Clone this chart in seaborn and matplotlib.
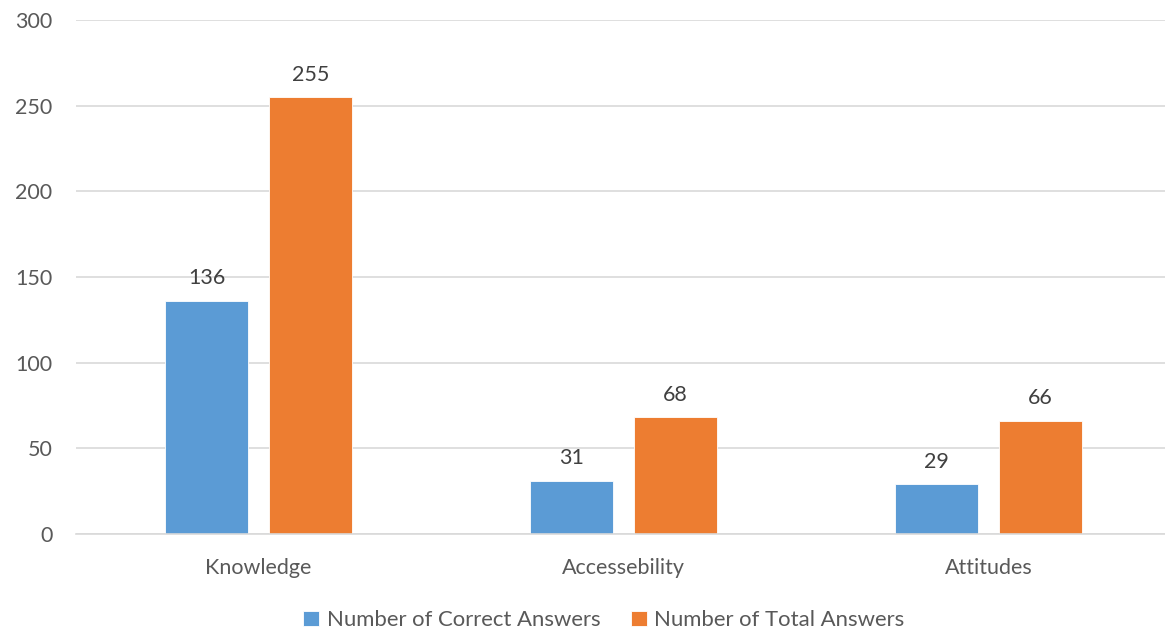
import matplotlib
matplotlib.use("Agg")
import matplotlib.pyplot as plt
import seaborn as sns
import pandas as pd

categories = ["Knowledge", "Accessebility", "Attitudes"]
series_names = ["Number of Correct Answers", "Number of Total Answers"]
correct = [136, 31, 29]
total = [255, 68, 66]
colors = ["#5B9BD5", "#ED7D31"]

df = pd.DataFrame({
    "category": categories * 2,
    "series": [series_names[0]] * 3 + [series_names[1]] * 3,
    "value": correct + total,
})

sns.set_theme(style="white")
plt.rcParams["font.family"] = ["Lato", "DejaVu Sans"]

W, H = 1165, 634
FS = 15.5
fig = plt.figure(figsize=(W / 100, H / 100), dpi=100)
ax = fig.add_axes([76 / W, 1 - 534 / H, 1095 / W, (534 - 20) / H])

sns.barplot(data=df, x="category", y="value", hue="series", order=categories,
            hue_order=series_names, palette=colors, saturation=1, width=0.57, gap=0.21,
            edgecolor="white", linewidth=0.6, ax=ax, legend=True)

ax.set_xlim(-0.5, 2.5)
ax.set_ylim(0, 300)
ax.set_yticks(range(0, 301, 50))
ax.yaxis.grid(True, color="#D9D9D9", linewidth=1.2)
ax.set_axisbelow(True)
for s in ["top", "right", "left"]:
    ax.spines[s].set_visible(False)
ax.spines["bottom"].set_color("#D9D9D9")
ax.spines["bottom"].set_linewidth(1.2)
ax.set_xlabel("")
ax.set_ylabel("")
ax.tick_params(axis="y", length=0, labelsize=FS, labelcolor="#595959", pad=17)
ax.tick_params(axis="x", which="major", length=0, labelsize=FS, labelcolor="#595959", pad=17)
ax.set_xticks([-0.5, 0.5, 1.5, 2.5], minor=True)
ax.tick_params(axis="x", which="minor", length=6, color="#D9D9D9", width=1.2)

for cont in ax.containers:
    ax.bar_label(cont, padding=9, fontsize=FS, color="#404040")

ax.legend(loc="upper center", bbox_to_anchor=((604 - 76) / 1095, -0.11), ncol=2,
          frameon=False, fontsize=15.9, handlelength=0.7, handleheight=0.7,
          handletextpad=0.35, columnspacing=1.4, labelcolor="#595959")

fig.savefig("out.png", dpi=100)
